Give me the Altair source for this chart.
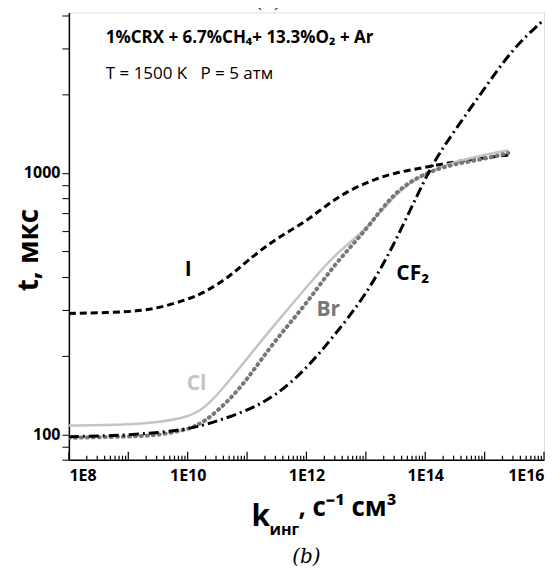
import altair as alt
import pandas as pd

k = [1e8, 1e9, 3e9, 1e10, 2e10, 5e10, 1e11, 3e11, 1e12, 3e12, 1e13, 3e13, 1e14, 3e14, 1e15, 2.5e15]
t_i = [290, 293, 302, 328, 350, 400, 460, 560, 650, 800, 920, 1000, 1050, 1100, 1140, 1170]
t_cl = [108, 109, 111, 116, 126, 160, 195, 265, 365, 490, 600, 830, 1000, 1100, 1170, 1220]
t_br = [97, 98, 99, 104, 112, 135, 162, 230, 315, 450, 600, 850, 1000, 1080, 1130, 1190]
k_cf2 = [1e8, 1e9, 1e10, 3e10, 1e11, 3e11, 1e12, 3e12, 1e13, 3e13, 1e14, 2e14, 1e15, 3e15, 1e16]
t_cf2 = [98, 99, 104, 112, 123, 140, 178, 240, 340, 530, 960, 1260, 2100, 3000, 3850]

major_x = [10.0 ** e for e in range(8, 17)]
minor_x = [m * 10.0 ** e for e in range(8, 16) for m in range(2, 10)]
y_ticks = [80, 90, 100, 200, 300, 400, 500, 600, 700, 800, 900, 1000, 2000, 3000, 4000]

W, H = 476, 448
FONT = "Open Sans"

xs = alt.Scale(type="log", domain=[1e8, 1e16])
ys = alt.Scale(type="log", domain=[80, 4100])

rows = []
for name, kk, tt in [("I", k, t_i), ("Cl", k, t_cl), ("Br", k, t_br), ("CF2", k_cf2, t_cf2)]:
    rows += [{"s": name, "k": a, "t": b} for a, b in zip(kk, tt)]
df = pd.DataFrame(rows)

styles = {
    "I": dict(color="black", strokeDash=[7, 4], strokeWidth=3),
    "Cl": dict(color="#c4c4c4", strokeWidth=2.5),
    "Br": dict(color="#777777", strokeDash=[1, 5], strokeWidth=4, strokeCap="round"),
    "CF2": dict(color="black", strokeDash=[10, 4, 2, 4], strokeWidth=3),
}

base = alt.Chart(df)
lines = [
    base.transform_filter(alt.datum.s == n).mark_line(interpolate="basis", clip=True, **st).encode(
        x=alt.X("k:Q", scale=xs, axis=alt.Axis(
            values=major_x[::2], labelExpr="'1E' + round(log(datum.value)/log(10))",
            ticks=False, domainColor="black", domainWidth=1.5, labelFont=FONT, labelFontWeight="bold",
            labelFontSize=16, labelColor="black", labelPadding=8, grid=False, title=None)),
        y=alt.Y("t:Q", scale=ys, axis=alt.Axis(
            values=y_ticks, labelExpr="datum.value == 100 || datum.value == 1000 ? datum.value : ''",
            tickColor="black", tickSize=7, domainColor="black", domainWidth=1.5, labelFont=FONT,
            labelFontWeight="bold", labelFontSize=16, labelColor="black", grid=False, title=None)),
    )
    for n, st in styles.items()
]

ticks_df = pd.DataFrame({"k": major_x + minor_x, "len": [8] * len(major_x) + [4] * len(minor_x)})
xticks = alt.Chart(ticks_df).transform_calculate(top=f"{H} - datum.len").mark_rule(
    color="black", strokeWidth=1.2).encode(
    x=alt.X("k:Q", scale=xs),
    y=alt.Y("top:Q", scale=None),
    y2=alt.value(H),
)

labels = pd.DataFrame([
    {"txt": "I", "x": 116, "y": 258, "c": "black", "s": 21},
    {"txt": "Br", "x": 248, "y": 298, "c": "#777777", "s": 21},
    {"txt": "Cl", "x": 118, "y": 372, "c": "#c4c4c4", "s": 21},
    {"txt": "CF₂", "x": 328, "y": 262, "c": "black", "s": 21},
    {"txt": "1%CRX + 6.7%CH₄+ 13.3%O₂ + Ar", "x": 37, "y": 26, "c": "black", "s": 17},
])
lab = alt.Chart(labels).mark_text(font=FONT, fontWeight="bold", align="left").encode(
    x=alt.X("x:Q", scale=None), y=alt.Y("y:Q", scale=None),
    text="txt:N", color=alt.Color("c:N", scale=None), size=alt.Size("s:Q", scale=None))

plain = alt.Chart(pd.DataFrame({"txt": ["T = 1500 K\u00a0\u00a0\u00a0P = 5 атм"]})).mark_text(
    font=FONT, fontSize=17, align="left", color="black").encode(
    x=alt.value(37), y=alt.value(62), text="txt:N")

xtitle = alt.Chart(pd.DataFrame({"a": ["k"], "b": ["инг"], "c": [", с⁻¹ см³"]}))
xt = alt.layer(
    xtitle.mark_text(font=FONT, fontWeight="bold", fontSize=30, align="left", color="black").encode(
        x=alt.value(183), y=alt.value(517 - 12), text="a:N"),
    xtitle.mark_text(font=FONT, fontWeight="bold", fontSize=16, align="left", color="black").encode(
        x=alt.value(201), y=alt.value(530 - 12), text="b:N"),
    xtitle.mark_text(font=FONT, fontWeight="bold", fontSize=26, align="left", color="black").encode(
        x=alt.value(230), y=alt.value(508 - 12), text="c:N"),
)
ytitle = alt.Chart(pd.DataFrame({"a": ["t, мкс"]})).mark_text(
    font=FONT, fontWeight="bold", fontSize=28, angle=270, baseline="middle", color="black").encode(
    x=alt.value(30 - 69), y=alt.value(250 - 12), text="a:N")
panel = alt.Chart(pd.DataFrame({"a": ["(b)"]})).mark_text(
    font="DejaVu Serif", fontStyle="italic", fontSize=20, color="black").encode(
    x=alt.value(307 - 69), y=alt.value(558 - 12), text="a:N")
ctop = alt.Chart(pd.DataFrame({"a": ["(c)"]})).mark_text(
    font="DejaVu Serif", fontStyle="italic", fontSize=20, color="black").encode(
    x=alt.value(270 - 69), y=alt.value(-12), text="a:N")

chart = alt.layer(*lines, xticks, lab, plain, xt, ytitle, panel, ctop).properties(
    width=W, height=H, autosize="none",
    padding={"left": 61, "top": 4, "right": 8, "bottom": 110},
).configure_view(stroke=None).configure(background="white")

chart.save("out.html", embed_options={"renderer": "svg", "actions": False})
